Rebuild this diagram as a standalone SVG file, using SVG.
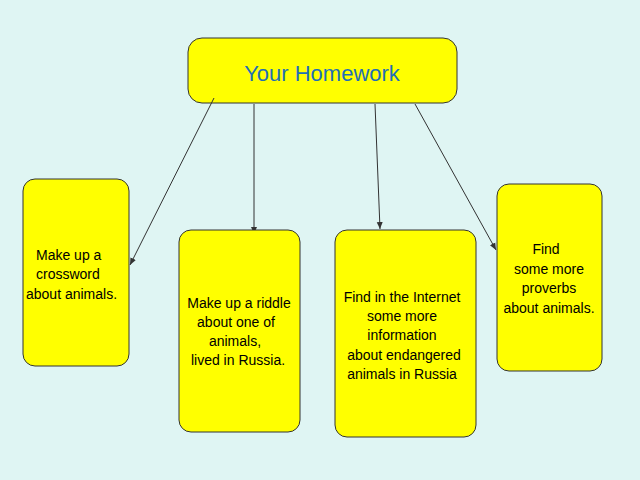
<svg xmlns="http://www.w3.org/2000/svg" width="640" height="480" viewBox="0 0 640 480">
<style>
.box{fill:#ffff00;stroke:#333;stroke-width:1}
.t{font-family:"Liberation Sans",Arial,sans-serif;font-size:14px;fill:#000;text-anchor:middle}
.c{stroke:#333;stroke-width:1;fill:none;marker-end:url(#a)}
</style>
<defs><marker id="a" markerWidth="8" markerHeight="8" refX="7" refY="4" orient="auto" markerUnits="userSpaceOnUse"><path d="M0,1 L7,4 L0,7 z" fill="#333"/></marker></defs>
<rect width="640" height="480" fill="#dff5f3"/>
<g id="top"><rect class="box" x="188" y="38" width="269" height="65" rx="14"/>
<text x="322" y="81" style="font-family:'Liberation Sans',Arial,sans-serif;font-size:22px;fill:#1f6fb5;text-anchor:middle">Your Homework</text></g>
<g id="connectors">
<path class="c" d="M214,98 L130,265"/>
<path class="c" d="M254,104 L254,234"/>
<path class="c" d="M375,104 L380,229"/>
<path class="c" d="M415,104 L496,250"/>
</g>
<g id="n1"><rect class="box" x="23" y="179" width="106" height="187" rx="12"/>
<text class="t" style="text-anchor:start" x="36" y="260">Make up a</text>
<text class="t" style="text-anchor:start" x="36" y="279">crossword</text>
<text class="t" style="text-anchor:start" x="26" y="299">about animals.</text></g>
<g id="n2"><rect class="box" x="179" y="230" width="121" height="202" rx="12"/>
<text class="t" x="239" y="308">Make up a riddle</text>
<text class="t" x="236" y="327">about one of</text>
<text class="t" x="235" y="346">animals,</text>
<text class="t" x="238" y="365">lived in Russia.</text></g>
<g id="n3"><rect class="box" x="335" y="230" width="141" height="207" rx="12"/>
<text class="t" x="402" y="302">Find in the Internet</text>
<text class="t" x="402" y="321">some more</text>
<text class="t" x="402" y="340">information</text>
<text class="t" x="404" y="360">about   endangered</text>
<text class="t" x="402" y="379">animals in Russia</text></g>
<g id="n4"><rect class="box" x="497" y="184" width="105" height="187" rx="12"/>
<text class="t" x="546" y="254">Find</text>
<text class="t" x="549" y="274">some more</text>
<text class="t" x="549" y="293">proverbs</text>
<text class="t" x="549" y="313">about animals.</text></g>
</svg>
